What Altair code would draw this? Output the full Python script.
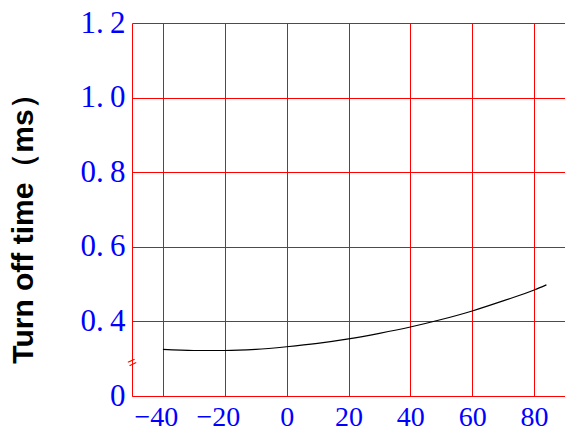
import altair as alt
import pandas as pd

temps = [-40, -30, -20, -10, 0, 10, 20, 30, 40, 50, 60, 70, 80, 84]
toff = [0.325, 0.322, 0.322, 0.325, 0.332, 0.341, 0.353, 0.368, 0.385, 0.405, 0.428, 0.455, 0.484, 0.498]
x_ticks = [-40, -20, 0, 20, 40, 60, 80]
y_ticks = [0.2, 0.4, 0.6, 0.8, 1.0, 1.2]
y_labels = ["0", "0.\u20094", "0.\u20096", "0.\u20098", "1.\u20090", "1.\u20092"]

df = pd.DataFrame({"t": temps, "v": toff})
brk = pd.DataFrame({"t": [-50], "v": [0.29], "s": ["="]})

lab_expr = "{" + ",".join(f"'{v:.1f}':'{l}'" for v, l in zip(y_ticks, y_labels)) + "}[format(datum.value,'.1f')]"
x_expr = "datum.value < 0 ? '−' + format(-datum.value,'d') : format(datum.value,'d')"

xs = alt.Scale(domain=[-50, 90], nice=False, zero=False)
ys = alt.Scale(domain=[0.2, 1.2], nice=False, zero=False)

FONT = "Liberation Serif, Times New Roman, serif"

line = alt.Chart(df).mark_line(color="black", strokeWidth=1.2, interpolate="monotone").encode(
    x=alt.X("t:Q", scale=xs, axis=alt.Axis(
        values=x_ticks, title=None, grid=True, gridColor="#ff0000", gridOpacity=1, gridWidth=1,
        domainColor="#ff0000", ticks=False, labelColor="#0000ff", labelFont=FONT,
        labelFontSize=28, labelPadding=7, labelExpr=x_expr,
        labelOffset={"condition": {"test": "datum.value < 0", "value": -7}, "value": 0})),
    y=alt.Y("v:Q", scale=ys, axis=alt.Axis(
        values=y_ticks, title="Turn off time（ms）", grid=True, gridColor="#ff0000", gridOpacity=1,
        gridWidth=1, domainColor="#ff0000", ticks=False, labelColor="#0000ff",
        labelFont=FONT, labelFontSize=31, labelPadding=7, labelExpr=lab_expr,
        labelBaseline="middle", titleFont="Liberation Sans, Arial, sans-serif", titleFontSize=30,
        titleFontWeight="bold", titleColor="black", titleX=-109, titleY=198,
        titleAlign="center", titleBaseline="middle")),
)

brk_mark = alt.Chart(brk).mark_text(color="#ff0000", fontSize=15, angle=335).encode(
    x=alt.X("t:Q", scale=xs), y=alt.Y("v:Q", scale=ys), text="s:N")

chart = (line + brk_mark).properties(
    width=433, height=373,
    autosize=alt.AutoSizeParams(type="none"),
    padding={"left": 132, "top": 23, "right": 0, "bottom": 36},
).configure_view(stroke=None)

chart.save("out.html", embed_options={"renderer": "svg", "actions": False})
